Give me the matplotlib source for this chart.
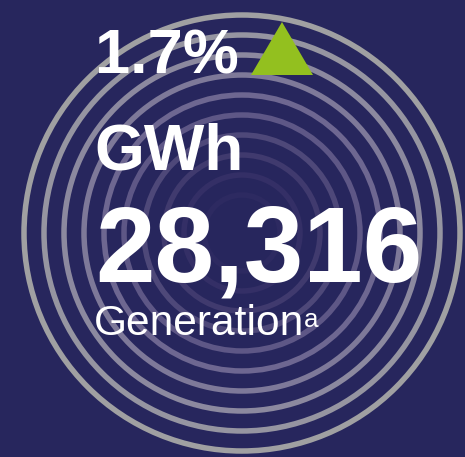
import matplotlib
matplotlib.use("Agg")
import matplotlib.pyplot as plt
from matplotlib.patches import Circle, Polygon

# ---- data ----
change_pct = 1.7
change_direction = "up"
value_gwh = 28316
unit_label = "GWh"
metric_label = "Generation"
footnote_mark = "a"

# ---- style ----
BG = "#27265D"
GREEN = "#93C01F"
FONT = "Liberation Sans"
ring_colors = ["#A0A0A2", "#9695A1", "#8C899F", "#7E7999", "#6E6791",
               "#5E5786", "#4E4879", "#403A6E", "#342F66", "#2D2A61"]

W, H, DPI = 465, 457, 100
fig = plt.figure(figsize=(W / DPI, H / DPI), dpi=DPI)
fig.patch.set_facecolor(BG)
ax = fig.add_axes([0, 0, 1, 1])
ax.set_xlim(0, W)
ax.set_ylim(H, 0)
ax.axis("off")
ax.set_facecolor(BG)

def px(p):
    return p * 72 / DPI

# concentric rings
cx, cy = 242, 233
r0, step = 218, 20
for i, col in enumerate(ring_colors):
    ax.add_patch(Circle((cx, cy), r0 - step * i, fill=False,
                        edgecolor=col, linewidth=px(5.5), zorder=1))

# texts
ax.text(95, 73, f"{change_pct}%", fontsize=px(63), fontweight="bold",
        color="white", family=FONT, va="baseline", ha="left", zorder=3)

if change_direction == "up":
    ax.add_patch(Polygon([(251, 75), (313, 75), (282, 22)], closed=True,
                         facecolor=GREEN, edgecolor="none", zorder=3))

ax.text(94, 170, unit_label, fontsize=px(64), fontweight="bold",
        color="white", family=FONT, va="baseline", ha="left", zorder=3)

ax.text(95, 282, f"{value_gwh:,}", fontsize=px(107), fontweight="bold",
        color="white", family=FONT, va="baseline", ha="left", zorder=3)

ax.text(94, 335, metric_label, fontsize=px(42.5), color="white",
        family=FONT, va="baseline", ha="left", zorder=3)
ax.text(304, 327, footnote_mark, fontsize=px(26), color="white",
        family=FONT, va="baseline", ha="left", zorder=3)

fig.savefig("out.png", dpi=DPI, facecolor=BG)
